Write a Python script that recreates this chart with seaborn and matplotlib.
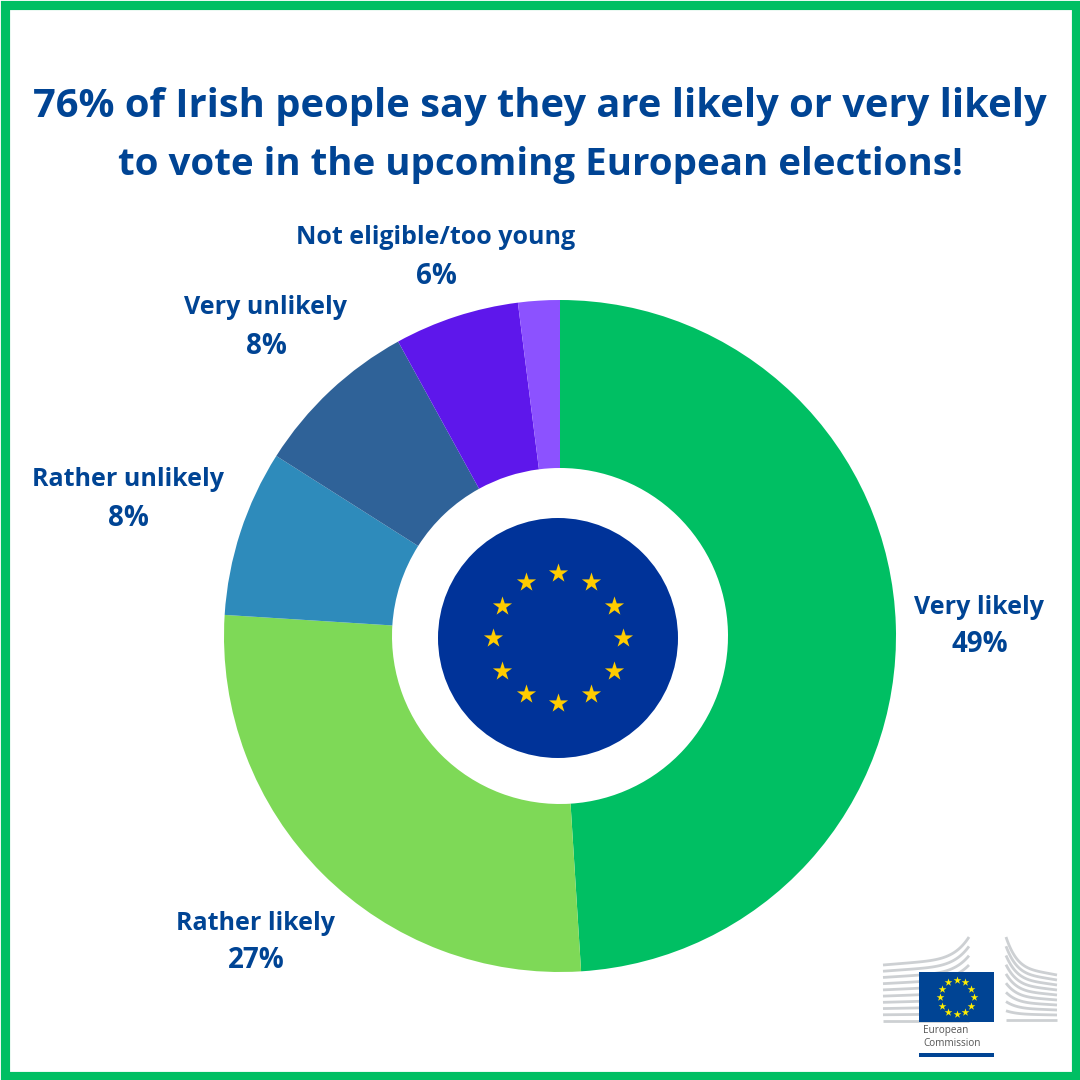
import numpy as np
import matplotlib
matplotlib.use('Agg')
import matplotlib.pyplot as plt
from matplotlib.patches import Rectangle, Circle
import seaborn as sns

categories = ['Very likely', 'Rather likely', 'Rather unlikely', 'Very unlikely', 'Not eligible/too young', "Don't know"]
values = [49, 27, 8, 8, 6, 2]
colours = ['#00BF63', '#7ED957', '#2E8BBB', '#2F6298', '#5E17EB', '#8C52FF']
title_lines = ['76% of Irish people say they are likely or very likely',
               'to vote in the upcoming European elections!']

sns.set_theme(style='white')
plt.rcParams['font.family'] = ['Open Sans', 'DejaVu Sans']

navy = '#004494'
logo_grey = '#CDD0D3'

fig = plt.figure(figsize=(10.8, 10.8), dpi=100)
ax = fig.add_axes([0, 0, 1, 1])

def py(y):
    return 1080 - y

# donut
ax.pie(values, colors=sns.color_palette(colours), startangle=90, counterclock=False,
       center=(560, py(636)), radius=336, frame=True,
       wedgeprops={'width': 168, 'linewidth': 0})
ax.set_xlim(0, 1080)
ax.set_ylim(0, 1080)
ax.set_aspect('equal')
ax.axis('off')

# border
ax.add_patch(Rectangle((4.5, 4.5), 1071, 1071, fill=False, ec='#00BF63', lw=6.6))

# title
ax.text(540, py(107), title_lines[0], color=navy, fontsize=28.7, fontweight='bold', ha='center', va='center')
ax.text(540, py(165), title_lines[1], color=navy, fontsize=27.7, fontweight='bold', ha='center', va='center')

# slice labels, last slice has none
label_pos = [(979, 607), (256, 923), (128, 480), (266, 308), (436, 238)]
for name, val, (x, y) in zip(categories, values, label_pos):
    ax.text(x, py(y), name, color=navy, fontsize=18, fontweight='bold', ha='center', va='center')
    ax.text(x + (0 if x != 979 else 1), py(y + 38), f'{val}%', color=navy, fontsize=20, fontweight='bold', ha='center', va='center')

# flag in the hole
ax.add_patch(Circle((558, py(638)), 120, fc='#003399', ec='none', zorder=3))
ang = np.deg2rad(np.arange(0, 360, 30))
ax.scatter(558 + 65 * np.cos(ang), py(638) + 65 * np.sin(ang), marker='*', s=210,
           color='#FFCC00', linewidths=0, zorder=4)

# commission logo
t = np.linspace(0, 1, 60)
n = 9
for i in range(n + 1):
    ys = 965 + i * 56 / n
    ye = 937 + i * 84 / n
    ax.plot(883 + t * 86, py(ys + (ye - ys) * (0.25 * t + 0.75 * t ** 6)),
            color=logo_grey, lw=2.0, zorder=2, solid_capstyle='butt')
    ys = 937 + i * 83 / n
    ye = 975 + i * 45 / n
    ax.plot(1006 + t * 51, py(ys + (ye - ys) * (1 - 0.75 * (1 - t) ** 5 - 0.25 * (1 - t))),
            color=logo_grey, lw=2.0, zorder=2, solid_capstyle='butt')
ax.add_patch(Rectangle((919, py(1022)), 75, 50, fc='#004494', ec='none', zorder=3))
ax.scatter(956.5 + 17 * np.cos(ang), py(997) + 17 * np.sin(ang), marker='*', s=34,
           color='#FFED00', linewidths=0, zorder=4)
ax.text(923, py(1031), 'European', color='#555555', fontsize=7.2, va='center', ha='left')
ax.text(923, py(1044), 'Commission', color='#555555', fontsize=7.2, va='center', ha='left')
ax.add_patch(Rectangle((919, py(1057)), 75, 4, fc='#004494', ec='none'))

fig.savefig('out.png', dpi=100, facecolor='white')
